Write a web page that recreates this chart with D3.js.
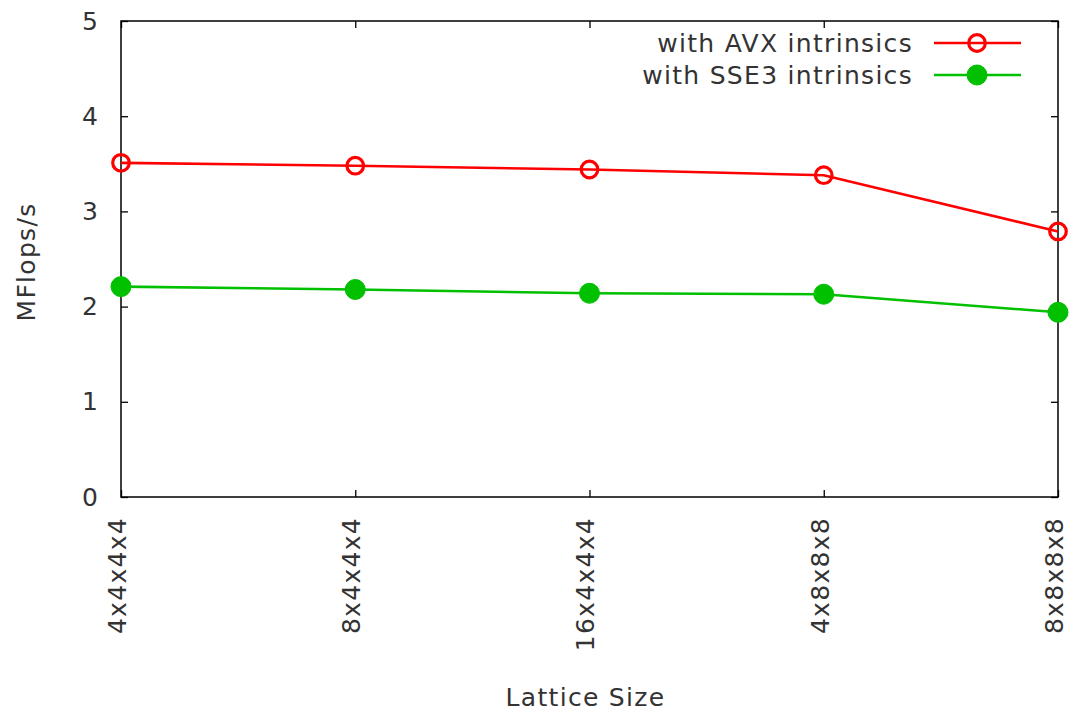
<!DOCTYPE html>
<html>
<head>
<meta charset="utf-8">
<script src="https://cdn.jsdelivr.net/npm/d3@7"></script>
<style>
  body { margin: 0; background: #fff; }
  svg text { font-family: "DejaVu Sans", sans-serif; fill: #333; }
</style>
</head>
<body>
<svg id="chart" width="1070" height="713"></svg>
<script>
// Lattice sizes benchmarked
const categories = ["4x4x4x4", "8x4x4x4", "16x4x4x4", "4x8x8x8", "8x8x8x8"];
// Measured throughput (MFlops/s)
const avxValues = [3.51, 3.48, 3.44, 3.38, 2.79];
const sse3Values = [2.21, 2.18, 2.14, 2.13, 1.94];
const yTicks = [0, 1, 2, 3, 4, 5];

const series = [
  { name: "with AVX intrinsics", values: avxValues, color: "#ff0000", filled: false },
  { name: "with SSE3 intrinsics", values: sse3Values, color: "#00c000", filled: true }
];

const margin = { left: 121, right: 12, top: 21, bottom: 216 };
const W = 1070, H = 713;
const plotW = W - margin.left - margin.right;
const plotH = H - margin.top - margin.bottom;

const svg = d3.select("#chart");
const g = svg.append("g").attr("transform", `translate(${margin.left},${margin.top})`);

const x = d3.scalePoint().domain(categories).range([0, plotW]);
const y = d3.scaleLinear().domain([0, 5]).range([plotH, 0]);

const fontSize = 25;
const letterSp = "1.3px";

// Y axis (left) with inward ticks and labels
const yAxis = g.append("g").call(
  d3.axisLeft(y).tickValues(yTicks).tickSize(-7).tickPadding(23).tickFormat(d3.format("d"))
);
yAxis.select(".domain").remove();
yAxis.selectAll("line").attr("stroke", "#000").attr("stroke-width", 1.3);
yAxis.selectAll("text")
  .style("font-size", fontSize + "px")
  .attr("fill", "#333");

// Mirrored ticks on the right side
const yRight = g.append("g").attr("transform", `translate(${plotW},0)`).call(
  d3.axisRight(y).tickValues(yTicks).tickSize(-7).tickFormat("")
);
yRight.select(".domain").remove();
yRight.selectAll("line").attr("stroke", "#000").attr("stroke-width", 1.3);

// X axis (bottom) with inward ticks and rotated labels
const xAxis = g.append("g").attr("transform", `translate(0,${plotH})`).call(
  d3.axisBottom(x).tickSize(-7).tickPadding(0)
);
xAxis.select(".domain").remove();
xAxis.selectAll("line").attr("stroke", "#000").attr("stroke-width", 1.3);
xAxis.selectAll("text")
  .style("font-size", fontSize + "px")
  .style("letter-spacing", letterSp)
  .attr("fill", "#333")
  .attr("text-anchor", "end")
  .attr("transform", "translate(0,20) rotate(-90)")
  .attr("x", 0)
  .attr("y", 0)
  .attr("dy", "0.17em");

// Mirrored ticks on top
const xTop = g.append("g").call(d3.axisTop(x).tickSize(-7).tickFormat(""));
xTop.select(".domain").remove();
xTop.selectAll("line").attr("stroke", "#000").attr("stroke-width", 1.3);

// Plot frame
g.append("rect")
  .attr("x", 0).attr("y", 0)
  .attr("width", plotW).attr("height", plotH)
  .attr("fill", "none").attr("stroke", "#000").attr("stroke-width", 1.5);

// Series lines and markers
const line = d3.line().x((d, i) => x(categories[i])).y(d => y(d));

series.forEach(s => {
  g.append("path")
    .datum(s.values)
    .attr("fill", "none")
    .attr("stroke", s.color)
    .attr("stroke-width", 2.6)
    .attr("d", line);

  g.selectAll(null)
    .data(s.values)
    .enter().append("circle")
    .attr("cx", (d, i) => x(categories[i]))
    .attr("cy", d => y(d))
    .attr("r", s.filled ? 10 : 8.3)
    .attr("fill", s.filled ? s.color : "none")
    .attr("stroke", s.color)
    .attr("stroke-width", s.filled ? 1 : 3.2);
});

// Legend (top right, inside the frame)
const legend = svg.append("g");
series.forEach((s, i) => {
  const ly = 43 + i * 32;
  legend.append("text")
    .attr("x", 913).attr("y", ly)
    .attr("dy", "0.35em")
    .attr("text-anchor", "end")
    .style("font-size", fontSize + "px")
    .style("letter-spacing", letterSp)
    .text(s.name);
  legend.append("line")
    .attr("x1", 934).attr("x2", 1021)
    .attr("y1", ly).attr("y2", ly)
    .attr("stroke", s.color).attr("stroke-width", 2.6);
  legend.append("circle")
    .attr("cx", 977).attr("cy", ly)
    .attr("r", s.filled ? 10 : 8.3)
    .attr("fill", s.filled ? s.color : "none")
    .attr("stroke", s.color)
    .attr("stroke-width", s.filled ? 1 : 3.2);
});

// Axis titles
svg.append("text")
  .attr("x", margin.left + plotW / 2 - 4)
  .attr("y", 706)
  .attr("text-anchor", "middle")
  .style("font-size", fontSize + "px")
  .style("letter-spacing", letterSp)
  .text("Lattice Size");

svg.append("text")
  .attr("transform", `translate(35,${margin.top + plotH / 2 + 3}) rotate(-90)`)
  .attr("text-anchor", "middle")
  .style("font-size", fontSize + "px")
  .style("letter-spacing", letterSp)
  .text("MFlops/s");
</script>
</body>
</html>
